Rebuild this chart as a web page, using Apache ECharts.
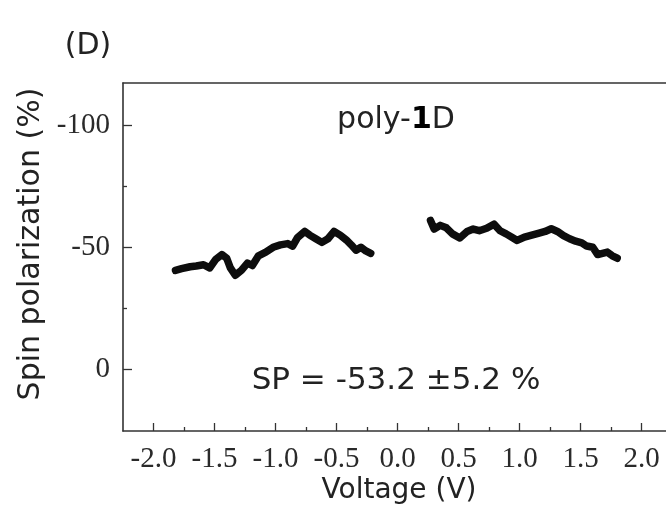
<!DOCTYPE html>
<html>
<head>
<meta charset="utf-8">
<script src="https://cdn.jsdelivr.net/npm/echarts@6/dist/echarts.min.js"></script>
<style>html,body{margin:0;padding:0;background:#fff;}#c{width:666px;height:505px;}</style>
</head>
<body>
<div id="c"></div>
<script>
// Data
const voltLeft = [-1.82,-1.77,-1.70,-1.65,-1.59,-1.54,-1.49,-1.44,-1.40,-1.37,-1.33,-1.28,-1.23,-1.19,-1.14,-1.08,-1.02,-0.96,-0.90,-0.86,-0.82,-0.76,-0.72,-0.67,-0.62,-0.57,-0.52,-0.47,-0.42,-0.38,-0.34,-0.30,-0.26,-0.22];
const spLeft = [-40.5,-41.2,-42.0,-42.3,-42.8,-41.5,-45.0,-47.0,-45.5,-41.5,-38.5,-40.5,-43.5,-42.5,-46.5,-48.0,-50.0,-51.0,-51.5,-50.5,-54.0,-56.5,-55.0,-53.5,-52.0,-53.5,-56.5,-55.0,-53.0,-51.0,-48.8,-50.0,-48.5,-47.5];
const voltRight = [0.27,0.30,0.35,0.40,0.45,0.51,0.57,0.62,0.67,0.73,0.79,0.84,0.89,0.94,0.98,1.04,1.10,1.16,1.21,1.26,1.31,1.36,1.41,1.46,1.51,1.55,1.60,1.64,1.68,1.72,1.76,1.80];
const spRight = [-61.0,-57.5,-59.0,-58.0,-55.5,-53.8,-56.5,-57.5,-56.8,-57.8,-59.5,-56.8,-55.5,-54.0,-52.8,-54.2,-55.0,-55.8,-56.5,-57.6,-56.5,-54.8,-53.5,-52.5,-51.8,-50.5,-50.0,-47.0,-47.5,-48.0,-46.5,-45.5];
const xMajorTicks = [-2.0,-1.5,-1.0,-0.5,0.0,0.5,1.0,1.5,2.0];
const xMinorTicks = [-1.75,-1.25,-0.75,-0.25,0.25,0.75,1.25,1.75];
const yMajorTicks = [-100,-50,0];
const yMinorTicks = [-75,-25];
const xTitle = 'Voltage (V)';
const yTitle = 'Spin polarization (%)';
const panelLabel = '(D)';
const spText = 'SP = -53.2 ±5.2 %';

const chart = echarts.init(document.getElementById('c'), null, {renderer: 'canvas'});
const gridBox = {left: 123, top: 83, right: 0, bottom: 74};
const xRange = {min: -2.25, max: 2.2};
const yRange = {min: -117.5, max: 25.5};
const lineCol = '#333';
const serif = '"Liberation Serif", "DejaVu Serif", serif';
const sans = '"DejaVu Sans", sans-serif';

const option = {
  animation: false,
  backgroundColor: '#fff',
  grid: [
    Object.assign({containLabel: false}, gridBox),
    Object.assign({containLabel: false}, gridBox)
  ],
  xAxis: [
    {
      type: 'value', gridIndex: 0, position: 'bottom', min: xRange.min, max: xRange.max,
      axisLine: {show: true, onZero: false, lineStyle: {color: lineCol, width: 1.6}},
      axisTick: {show: true, inside: true, length: 8, customValues: xMajorTicks, lineStyle: {color: lineCol, width: 1.3}},
      axisLabel: {show: true, customValues: xMajorTicks, margin: 14, color: '#2a2a2a', fontFamily: serif, fontSize: 29,
        formatter: v => v.toFixed(1)},
      splitLine: {show: false}
    },
    {
      type: 'value', gridIndex: 1, position: 'bottom', min: xRange.min, max: xRange.max,
      axisLine: {show: false, onZero: false},
      axisTick: {show: true, inside: true, length: 4, customValues: xMinorTicks, lineStyle: {color: lineCol, width: 1.3}},
      axisLabel: {show: false},
      splitLine: {show: false}
    },
    {
      type: 'value', gridIndex: 1, position: 'top', min: xRange.min, max: xRange.max,
      axisLine: {show: true, onZero: false, lineStyle: {color: lineCol, width: 1.6}},
      axisTick: {show: false}, axisLabel: {show: false}, splitLine: {show: false}
    }
  ],
  yAxis: [
    {
      type: 'value', gridIndex: 0, position: 'left', inverse: true, min: yRange.min, max: yRange.max,
      axisLine: {show: true, onZero: false, lineStyle: {color: lineCol, width: 1.6}},
      axisTick: {show: true, inside: true, length: 9, customValues: yMajorTicks, lineStyle: {color: lineCol, width: 1.3}},
      axisLabel: {show: true, customValues: yMajorTicks, margin: 13, color: '#2a2a2a', fontFamily: serif, fontSize: 29},
      splitLine: {show: false}
    },
    {
      type: 'value', gridIndex: 1, position: 'left', inverse: true, min: yRange.min, max: yRange.max,
      axisLine: {show: false, onZero: false},
      axisTick: {show: true, inside: true, length: 4, customValues: yMinorTicks, lineStyle: {color: lineCol, width: 1.3}},
      axisLabel: {show: false}, splitLine: {show: false}
    }
  ],
  series: [
    {
      type: 'line', xAxisIndex: 0, yAxisIndex: 0, showSymbol: false, symbol: 'none',
      data: voltLeft.map((v, i) => [v, spLeft[i]]),
      lineStyle: {color: '#0d0d0d', width: 7.5, join: 'round', cap: 'round'}
    },
    {
      type: 'line', xAxisIndex: 0, yAxisIndex: 0, showSymbol: false, symbol: 'none',
      data: voltRight.map((v, i) => [v, spRight[i]]),
      lineStyle: {color: '#0d0d0d', width: 7.5, join: 'round', cap: 'round'}
    }
  ],
  graphic: [
    {type: 'text', x: 88, y: 46, style: {text: panelLabel, font: '30px ' + sans, fill: '#222', align: 'center', verticalAlign: 'middle'}},
    {type: 'text', x: 396, y: 120, style: {
      text: '{n|poly-}{b|1}{n|D}', align: 'center', verticalAlign: 'middle',
      rich: {n: {fontFamily: sans, fontSize: 30, fill: '#222', color: '#222'}, b: {fontFamily: sans, fontSize: 30, fontWeight: 'bold', color: '#222'}}
    }},
    {type: 'text', x: 396, y: 381, style: {text: spText, font: '31px ' + sans, fill: '#222', align: 'center', verticalAlign: 'middle'}},
    {type: 'text', x: 399, y: 491, style: {text: xTitle, font: '28px ' + sans, fill: '#222', align: 'center', verticalAlign: 'middle'}},
    {type: 'text', x: 31, y: 244, rotation: Math.PI / 2, style: {text: yTitle, font: '30px ' + sans, fill: '#222', align: 'center', verticalAlign: 'middle'}}
  ]
};
chart.setOption(option);
</script>
</body>
</html>
